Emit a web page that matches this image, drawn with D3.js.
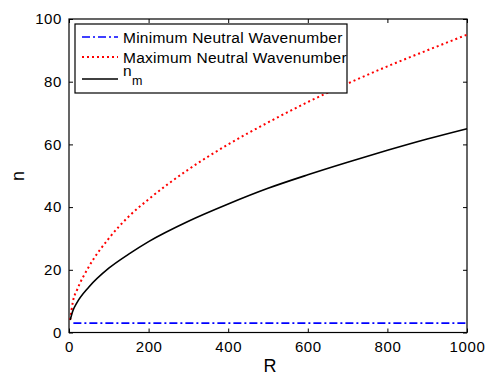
<!DOCTYPE html>
<html>
<head>
<meta charset="utf-8">
<script src="https://cdn.jsdelivr.net/npm/d3@7"></script>
<style>
  body { margin: 0; background: #fff; }
  text { font-family: "Liberation Sans", Arial, sans-serif; }
</style>
</head>
<body>
<svg id="chart" width="485" height="379"></svg>
<script>
// values
const rMin = [11, 100, 200, 300, 400, 500, 600, 700, 800, 900, 1000];
const nMin = [3, 3, 3, 3, 3, 3, 3, 3, 3, 3, 3];

const rCurve = [3, 10, 20, 50, 100, 150, 200, 300, 400, 500, 600, 700, 800, 900, 1000];
const nMax = [4, 10, 13.5, 21, 30, 37, 42.5, 52, 60, 67, 73.5, 79.4, 84.9, 90, 95];
const nM = [4, 7, 9.5, 14.5, 20.5, 25, 29, 35.5, 41, 46, 50.3, 54.3, 58.1, 61.7, 65];

const xTicks = [0, 200, 400, 600, 800, 1000];
const yTicks = [0, 20, 40, 60, 80, 100];

const legendNames = ["Minimum Neutral Wavenumber", "Maximum Neutral Wavenumber", "n"];

const svg = d3.select("#chart");
const mLeft = 69, mRight = 467, mTop = 19, mBottom = 332.5;

const x = d3.scaleLinear().domain([0, 1000]).range([mLeft, mRight]);
const y = d3.scaleLinear().domain([0, 100]).range([mBottom, mTop]);

// axes with inward ticks, mirrored on top/right
const fmt = d3.format("d");
const gx = svg.append("g").attr("transform", "translate(0," + mBottom + ")")
    .call(d3.axisBottom(x).tickValues(xTicks).tickFormat(fmt).tickSizeInner(-4).tickSizeOuter(0).tickPadding(9));
const gxTop = svg.append("g").attr("transform", "translate(0," + mTop + ")")
    .call(d3.axisTop(x).tickValues(xTicks).tickFormat("").tickSizeInner(-4).tickSizeOuter(0));
const gy = svg.append("g").attr("transform", "translate(" + mLeft + ",0)")
    .call(d3.axisLeft(y).tickValues(yTicks).tickFormat(fmt).tickSizeInner(-4).tickSizeOuter(0).tickPadding(7));
const gyRight = svg.append("g").attr("transform", "translate(" + mRight + ",0)")
    .call(d3.axisRight(y).tickValues(yTicks).tickFormat("").tickSizeInner(-4).tickSizeOuter(0));

[gx, gxTop, gy, gyRight].forEach(g => {
    g.select(".domain").remove();
    g.selectAll(".tick line").attr("stroke", "#000").attr("stroke-width", 1);
    g.selectAll("text").attr("fill", "#000").style("font-size", "15px").style("letter-spacing", "0.6px");
});

svg.append("rect").attr("x", mLeft).attr("y", mTop)
    .attr("width", mRight - mLeft).attr("height", mBottom - mTop)
    .attr("fill", "none").attr("stroke", "#000").attr("stroke-width", 1.2);

// axis labels
svg.append("text").attr("x", 270).attr("y", 372)
    .attr("text-anchor", "middle").style("font-size", "18px").text("R");
svg.append("text").attr("transform", "translate(24," + 176 + ") rotate(-90)")
    .attr("text-anchor", "middle").style("font-size", "18px").text("n");

const line = d3.line().x(d => x(d[0])).y(d => y(d[1]));
const smooth = d3.line().curve(d3.curveMonotoneX).x(d => x(d[0])).y(d => y(d[1]));

svg.append("path").datum(d3.zip(rMin, nMin))
    .attr("d", line).attr("fill", "none").attr("stroke", "#0000ff")
    .attr("stroke-width", 1.6).attr("stroke-dasharray", "8,3,2,3");

svg.append("path").datum(d3.zip(rCurve, nMax))
    .attr("d", smooth).attr("fill", "none").attr("stroke", "#ff0000")
    .attr("stroke-width", 2).attr("stroke-dasharray", "2,3");

svg.append("path").datum(d3.zip(rCurve, nM))
    .attr("d", smooth).attr("fill", "none").attr("stroke", "#000").attr("stroke-width", 1.6);

// legend
const lg = svg.append("g");
lg.append("rect").attr("x", 75).attr("y", 24).attr("width", 272).attr("height", 69)
    .attr("fill", "#fff").attr("stroke", "#000").attr("stroke-width", 1.2);

const legendStyles = [
    { color: "#0000ff", dash: "8,3,2,3", w: 1.6 },
    { color: "#ff0000", dash: "2,3", w: 2 },
    { color: "#000", dash: null, w: 1.6 }
];
const rowY = [37, 57, 79];
legendNames.forEach((name, i) => {
    lg.append("line").attr("x1", 82).attr("x2", 118).attr("y1", rowY[i]).attr("y2", rowY[i])
        .attr("stroke", legendStyles[i].color).attr("stroke-width", legendStyles[i].w)
        .attr("stroke-dasharray", legendStyles[i].dash);
    const t = lg.append("text").attr("x", 123).attr("y", rowY[i] + 6)
        .style("font-size", "15.5px").style("letter-spacing", "0.25px");
    if (i === 2) {
        t.attr("y", rowY[i] - 3).text(name);
        t.append("tspan").attr("dy", 9).style("font-size", "12.5px").text("m");
    } else {
        t.text(name);
    }
});
</script>
</body>
</html>
